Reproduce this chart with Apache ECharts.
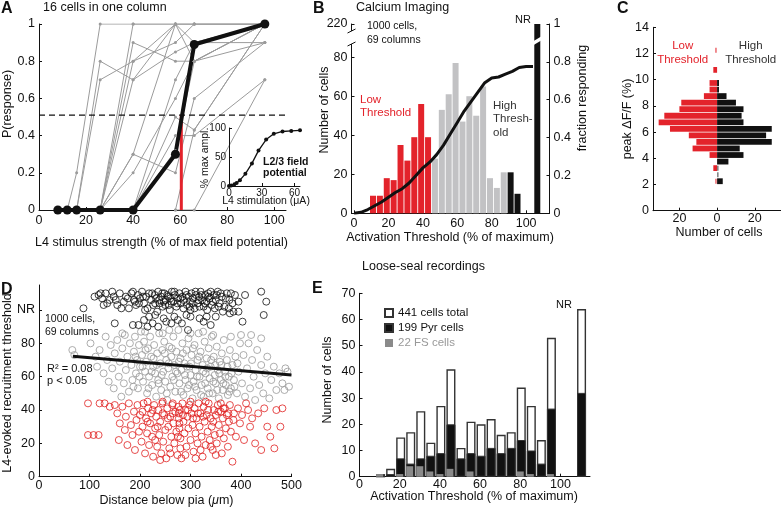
<!DOCTYPE html>
<html>
<head>
<meta charset="utf-8">
<script src="https://cdn.jsdelivr.net/npm/echarts@6/dist/echarts.min.js"></script>
<style>
  html, body { margin: 0; padding: 0; background: #fff; }
  #chart { width: 781px; height: 509px; }
</style>
</head>
<body>
<div id="chart"></div>
<script>
// ---- A: P(response) vs L4 stimulus, 16 cells + mean
const aStim = [8, 12, 16, 26, 40, 58, 66, 96];
const aMean = [0, 0, 0, 0, 0, 0.3, 0.89, 1];
const aCells = [
  [[12, 0], [16, 0.2], [26, 1], [40, 1], [58, 1], [66, 1], [96, 1]],
  [[16, 0], [26, 0.8], [40, 0.7], [58, 1], [66, 0.8], [96, 0.9]],
  [[16, 0], [26, 0.7], [40, 0.8], [58, 0.9], [66, 1], [96, 1]],
  [[26, 0], [40, 1], [58, 1], [66, 1], [96, 1]],
  [[26, 0], [40, 0.9], [58, 0.8], [66, 0.8], [96, 1]],
  [[26, 0], [40, 0.8], [58, 1], [66, 0.9], [96, 0.9]],
  [[26, 0], [40, 0.7], [58, 0.85], [66, 0.9], [96, 1]],
  [[26, 0], [40, 0.3], [58, 1], [66, 1], [96, 1]],
  [[26, 0], [40, 0.2], [58, 0.6], [66, 0.8], [96, 1]],
  [[26, 0], [40, 0], [58, 0.7], [66, 0.9], [96, 1]],
  [[40, 0], [58, 0.5], [66, 0.43], [96, 1]],
  [[40, 0], [58, 0.32], [66, 0.8], [96, 1]],
  [[40, 0], [58, 0.4], [66, 0.4], [96, 0.7]],
  [[58, 0], [66, 0.43], [96, 1]],
  [[58, 0], [66, 0], [96, 0.7]],
  [[26, 0], [40, 0.3], [58, 0.2], [66, 0.6], [96, 0.9]],
];
const aHalf = 0.51;
const aHalfStim = 60.5;
// inset: L2/3 field potential
const insetStim = [0, 2, 5, 7, 10, 15, 21, 27, 34, 41, 49, 57, 65];
const insetAmpl = [0, 1, 3, 5, 10, 21, 39, 61, 80, 90, 94, 95, 96];

// ---- B: calcium imaging histogram
const bBins = [11, 15, 19, 23, 27, 31, 35, 39, 43, 47, 51, 55, 59, 63, 67, 71, 75, 79, 83, 87, 91, 95];
const bCounts = [9, 9, 18, 17, 35, 27, 39, 56, 39, 28, 53, 61, 77, 47, 60, 50, 65, 18, 13, 21, 21, 10];
const bLowMax = 45, bHighMin = 88;
const bNR = 220, bNRx = 106.5;
const bCumX = [0, 4, 8, 12, 16, 20, 24, 28, 32, 36, 40, 44, 48, 52, 56, 60, 64, 68, 72, 76, 80, 84, 88, 92, 96, 100, 104];
const bCumFrac = [0, 0.005, 0.02, 0.04, 0.06, 0.085, 0.11, 0.13, 0.16, 0.2, 0.24, 0.27, 0.31, 0.36, 0.42, 0.48, 0.54, 0.59, 0.64, 0.69, 0.715, 0.72, 0.735, 0.75, 0.77, 0.776, 0.776];

// ---- C: peak dF/F histograms
const cBinCenters = [2.25, 2.75, 3.25, 3.75, 4.25, 4.75, 5.25, 5.75, 6.25, 6.75, 7.25, 7.75, 8.25, 8.75, 9.25, 9.75, 10.25, 10.75, 11.25, 11.75, 12.25];
const cLow = [0, 0, 2, 0, 4, 13, 11, 15, 25, 31, 28, 20, 19, 7, 4, 4, 0, 2, 0, 0, 0];
const cHigh = [3, 0, 0, 6, 14, 12, 29, 26, 29, 14, 13, 14, 10, 5, 1, 1, 0, 0, 0, 0, 0];
const cLowZero = [2.25, 12.25];
const cHighZero = [2.75, 3.25];

// ---- D: threshold vs depth
const dBlack = [[88,101],[110,108],[118,109],[125,107],[128,103],[132,110],[140,106],[145,111],[148,108],[155,103],[160,110],[163,101],[168,105],[172,108],[178,101],[183,110],[186,111],[188,106],[190,105],[192,103],[196,109],[200,107],[204,111],[208,104],[210,100],[212,108],[215,101],[218,110],[222,106],[226,103],[229,109],[232,107],[234,99],[236,111],[239,104],[242,108],[245,102],[247,105],[248,110],[251,106],[254,109],[257,103],[259,100],[260,107],[263,111],[266,105],[269,109],[272,102],[274,104],[275,107],[278,110],[281,104],[284,108],[286,101],[287,106],[290,111],[293,103],[296,108],[299,105],[300,100],[302,110],[305,107],[308,101],[311,109],[314,104],[317,108],[318,102],[320,111],[323,106],[326,102],[329,109],[332,105],[333,100],[335,110],[338,107],[342,103],[346,109],[348,101],[350,106],[354,111],[358,104],[362,108],[364,99],[367,102],[372,110],[376,101],[377,106],[378,98],[383,104],[385,99],[388,109],[395,105],[395,99],[408,109],[440,111],[450,105],
  [238,106],[244,110],[250,103],[256,108],[262,105],[268,111],[280,107],[292,109],[298,102],[304,104],[310,111],[316,106],[322,109],[328,104],[336,108],[340,111],[344,105],[352,109],[356,102],[360,110],[370,107],[380,110],[230,104],[224,110],[206,108],[198,104],[176,107],[152,106],[135,104],[122,110],
  [150,92],[186,91],[197,91],[208,94],[215,90],[218,96],[225,92],[230,97],[236,90],[247,95],[252,93],[262,92],[268,96],[275,94],[283,92],[292,97],[295,88],[300,96],[318,95],[326,93],[332,96],[340,91],[350,96],[403,93],[445,97]];
const dGray = [[66,76],[70,73],[102,80],[112,72],[115,66],[120,76],[128,62],[132,84],[135,70],[138,57],[142,79],[145,65],[148,53],[150,74],[155,82],[158,60],[160,69],[163,48],[165,77],[168,56],[170,85],[172,64],[175,72],[178,51],[180,80],
  [183,67],[185,58],[188,75],[190,84],[192,62],[194,70],[196,53],[198,79],[200,66],[202,87],[204,73],[206,57],[208,81],[210,63],[212,69],[214,50],[216,77],[218,60],[220,84],[222,72],[224,55],[226,66],[228,79],[230,62],[232,48],[234,74],[236,58],[238,86],[240,68],[242,52],[244,76],[246,63],[248,81],[250,57],[252,70],[254,46],[256,65],[258,78],[260,54],[262,72],[264,60],[266,84],[268,67],[270,51],[272,75],[274,62],[276,88],[278,56],[280,71],[282,64],[284,80],[286,49],[288,68],[290,58],[292,76],[294,53],[296,83],[298,66],[300,61],[302,73],[304,47],[306,57],[308,79],[310,64],[312,52],[314,70],[316,86],[318,60],[320,75],[322,55],[324,67],[326,48],[328,81],[330,62],[332,71],[334,53],[336,77],[338,59],[340,66],[342,84],[344,50],[346,72],[348,61],[350,56],[352,78],[354,64],[356,47],[358,69],[360,58],[362,74],[364,52],[366,82],[368,63],[370,55],[372,70],[374,49],[376,60],[378,76],[380,53],[383,67],[386,58],[389,72],[392,50],[395,63],[398,80],
  [187,54],[191,72],[199,60],[205,66],[211,76],[217,53],[223,63],[227,71],[233,67],[237,56],[243,61],[249,74],[253,50],[257,68],[263,77],[267,58],[271,63],[277,69],[281,51],[285,74],[289,61],[293,66],[297,55],[301,68],[305,77],[309,54],[313,60],[317,72],[321,49],[325,63],[329,56],[333,65],[337,50],[341,70],[345,57],[349,67],[353,52],[357,62],[361,67],[365,56],[369,60],[373,66],[377,51],[381,62],[387,54],[393,68],
  [402,56],[405,73],[408,48],[412,65],[415,80],[418,53],[422,70],[425,60],[428,46],[432,76],[436,55],[440,67],[444,50],[448,62],[452,72],[456,47],[460,58],[465,66],[470,52],[476,62],[482,56],[488,65],[492,63],[486,52],[495,54],[440,83],[420,85],
  [165,86],[210,87],[245,86],[258,88],[300,86],[325,87],[345,85],[380,84],[400,85]];
const dRed = [[97,44],[120,44],[97,25],[108,25],[118,25],[130,44],[140,42],[150,43],[155,38],[160,32],[158,22],[165,42],[170,28],[172,36],[175,19],[178,44],[182,31],[185,25],[188,39],[190,16],[193,34],[195,43],[198,27],[200,37],[203,21],[205,30],[207,44],[210,14],[212,35],[214,26],[216,41],[218,19],[220,32],[222,38],[224,24],[226,12],[228,43],[230,29],[232,36],[234,18],[236,40],[238,25],[240,33],[242,14],[244,44],[246,21],[248,37],[250,28],[252,11],[254,41],[256,30],[258,17],[260,36],[262,24],[264,43],[266,32],[268,20],[270,39],[272,27],[274,13],[276,42],[277,38],[277,35],[278,32],[278,29],[279,40],[280,23],[282,11],[284,44],[286,33],[288,26],[290,40],[292,18],[294,36],[296,29],[298,43],[300,22],[302,38],[304,31],[306,15],[308,41],[310,26],[312,35],[314,20],[316,44],[318,30],[320,38],[322,24],[324,12],[326,42],[328,33],[330,19],[332,37],[334,27],[336,44],[338,22],[340,35],[342,30],[344,16],[346,40],[348,25],[350,37],[352,20],[354,43],[356,31],[358,26],[360,39],[362,14],[364,35],[366,23],[368,41],[370,29],[372,37],[374,18],[376,33],[378,43],[380,27],[383,9],[386,38],[390,24],[394,41],[398,32],[402,37],[406,22],[410,44],[414,40],[418,30],[422,35],[428,20],[434,38],[440,16],[446,41],[452,30],[458,24],[466,17],[470,40],[478,30],[482,41],
  [205,39],[215,33],[225,40],[235,30],[245,38],[255,35],[265,38],[275,24],[285,37],[295,40],[305,35],[315,38],[325,36],[335,40],[345,33],[355,39],[365,41],[375,38],[385,34],[215,45],[245,45],[300,45],[330,45],[360,44],[265,44],[230,22],[260,14],[290,13],[320,16],[350,13],[240,10],[280,17],[310,11],[340,18]];
const dFit = [[67, 72.3], [500, 61]];

// ---- E: loose-seal recordings
const eBins = [10, 15, 20, 25, 30, 35, 40, 45, 50, 55, 60, 65, 70, 75, 80, 85, 90, 95, 110];
const eTotal = [1, 3, 15, 17, 25, 13, 27, 41, 11, 21, 20, 22, 16, 17, 34, 27, 14, 53, 64];
const ePyr = [0, 1, 7, 5, 7, 8, 9, 20, 7, 9, 8, 11, 9, 11, 14, 10, 5, 26, 32];
const eFS = [1, 0, 1, 4, 4, 2, 1, 3, 0, 2, 0, 0, 0, 0, 2, 1, 0, 1, 0];

const FONT = "'Liberation Sans', Arial, sans-serif";
const INK = '#111';
const RED = '#e3232b';
const zip = (xs, ys) => xs.map((x, i) => [x, ys[i]]);

function valAxis(grid, min, max, ticks, lab, extra) {
  return Object.assign({
    type: 'value', gridIndex: grid, min: min, max: max,
    axisLine: { show: true, onZero: false, lineStyle: { color: INK, width: 1 } },
    axisTick: { show: true, inside: true, length: 3, customValues: ticks, lineStyle: { color: INK } },
    axisLabel: Object.assign({ color: INK, fontSize: 12.5, fontFamily: FONT, margin: 4, customValues: ticks }, lab || {}),
    splitLine: { show: false },
  }, extra || {});
}

function t(x, y, s, st, rot) {
  return {
    type: 'text', x: x, y: y, rotation: rot || 0, z: 20,
    style: Object.assign({ text: s, fill: INK, fontSize: 12.5, fontFamily: FONT, align: 'left', verticalAlign: 'middle' }, st || {}),
  };
}
const UP = Math.PI / 2;

// B axis break: everything above 80 is shown at the top of the axis
const bTop = 97;
const brk = (v) => (v > 90 ? bTop : v);

// C categories (bin centres over 0..14)
const cCats = [];
for (let v = 0.25; v < 14; v += 0.5) cCats.push(v.toFixed(2));
const cIdx = (c) => cCats.indexOf(c.toFixed(2));
const cLowData = cCats.map(() => null);
const cHighData = cCats.map(() => null);
cBinCenters.forEach((c, i) => {
  if (cLow[i]) cLowData[cIdx(c)] = -cLow[i];
  if (cHigh[i]) cHighData[cIdx(c)] = cHigh[i];
});

const chart = echarts.init(document.getElementById('chart'));

const series = [];
// A
aCells.forEach((pts) => series.push({
  type: 'line', xAxisIndex: 0, yAxisIndex: 0, data: pts, symbol: 'circle', symbolSize: 3,
  lineStyle: { color: '#9b9b9b', width: 1 }, itemStyle: { color: '#9b9b9b' }, silent: true,
}));
series.push({
  type: 'line', xAxisIndex: 0, yAxisIndex: 0, data: [[0, aHalf], [105, aHalf]], symbol: 'none',
  lineStyle: { color: INK, width: 1.2, type: [6, 4] }, silent: true,
});
series.push({
  type: 'line', xAxisIndex: 0, yAxisIndex: 0, data: [[aHalfStim, 0], [aHalfStim, aHalf]], symbol: 'none',
  lineStyle: { color: RED, width: 3 }, silent: true,
});
series.push({
  type: 'line', xAxisIndex: 0, yAxisIndex: 0, data: zip(aStim, aMean), symbol: 'circle', symbolSize: 9,
  lineStyle: { color: INK, width: 4 }, itemStyle: { color: INK }, silent: true,
});
series.push({
  type: 'line', xAxisIndex: 1, yAxisIndex: 1, data: zip(insetStim, insetAmpl), symbol: 'circle', symbolSize: 4, z: 6,
  lineStyle: { color: INK, width: 1.3 }, itemStyle: { color: INK }, silent: true,
});
// B
series.push({
  type: 'bar', xAxisIndex: 2, yAxisIndex: 2, barWidth: 6, barGap: '-100%', silent: true,
  data: bBins.map((x, i) => ({
    value: [x, bCounts[i]],
    itemStyle: { color: x < bLowMax ? RED : (x > bHighMin ? INK : '#c2c2c4') },
  })),
});
series.push({
  type: 'bar', xAxisIndex: 2, yAxisIndex: 2, barWidth: 6, barGap: '-100%', silent: true,
  data: [[bNRx, brk(bNR)]], itemStyle: { color: INK },
});
series.push({
  type: 'line', xAxisIndex: 2, yAxisIndex: 3, data: zip(bCumX, bCumFrac), symbol: 'none',
  lineStyle: { color: INK, width: 3 }, silent: true,
});
// C
series.push({
  type: 'bar', xAxisIndex: 3, yAxisIndex: 5, data: cLowData, barWidth: 5.8, barGap: '-100%',
  itemStyle: { color: RED }, silent: true,
});
series.push({
  type: 'bar', xAxisIndex: 3, yAxisIndex: 5, data: cHighData, barWidth: 5.8, barGap: '-100%',
  itemStyle: { color: INK }, silent: true,
});
series.push({
  type: 'scatter', xAxisIndex: 3, yAxisIndex: 5, data: cLowZero.map((c) => [-0.6, cIdx(c)]),
  symbol: 'rect', symbolSize: [1.3, 5], itemStyle: { color: RED }, silent: true,
});
series.push({
  type: 'scatter', xAxisIndex: 3, yAxisIndex: 5, data: cHighZero.map((c) => [0.4, cIdx(c)]),
  symbol: 'rect', symbolSize: [1.3, 5], itemStyle: { color: '#444' }, silent: true,
});
// D
[[dGray, '#999'], [dRed, '#e02020'], [dBlack, INK]].forEach(([pts, col]) => series.push({
  type: 'scatter', xAxisIndex: 4, yAxisIndex: 6, data: pts, symbol: 'circle', symbolSize: 7,
  itemStyle: { color: 'rgba(0,0,0,0)', borderColor: col, borderWidth: 1 }, silent: true,
}));
series.push({
  type: 'line', xAxisIndex: 4, yAxisIndex: 6, data: dFit, symbol: 'none',
  lineStyle: { color: INK, width: 3 }, silent: true,
});
// E
series.push({
  name: '441 cells total', type: 'bar', xAxisIndex: 5, yAxisIndex: 7, barWidth: 9, barGap: '-100%',
  data: zip(eBins, eTotal), itemStyle: { color: '#fff', borderColor: '#333', borderWidth: 1.4 }, silent: true,
});
series.push({
  name: '199 Pyr cells', type: 'bar', xAxisIndex: 5, yAxisIndex: 7, barWidth: 9, barGap: '-100%',
  data: zip(eBins, ePyr), itemStyle: { color: INK, borderColor: '#333', borderWidth: 1 }, silent: true,
});
series.push({
  name: '22 FS cells', type: 'bar', xAxisIndex: 5, yAxisIndex: 7, barWidth: 7, barGap: '-100%',
  data: zip(eBins, eFS), itemStyle: { color: '#8a8a8a' }, silent: true,
});

const option = {
  animation: false,
  backgroundColor: '#fff',
  grid: [
    { left: 39, top: 24, width: 247, height: 186 },
    { left: 229, top: 128, width: 71, height: 58 },
    { left: 351.5, top: 24, width: 198, height: 189.3 },
    { left: 653, top: 27.3, width: 129, height: 183.4 },
    { left: 39, top: 285, width: 252.5, height: 191.7 },
    { left: 359.5, top: 293.3, width: 230.5, height: 183.4 },
  ],
  xAxis: [
    valAxis(0, 0, 105, [0, 20, 40, 60, 80, 100]),
    valAxis(1, 0, 65, [0, 30, 60], { fontSize: 10, margin: 2 }, { z: 6 }),
    valAxis(2, -1.5, 113.6, [0, 20, 40, 60, 80, 100]),
    valAxis(3, -34, 33.9, [-20, 0, 20], { formatter: (v) => Math.abs(v), margin: 1 }),
    valAxis(4, 0, 500, [0, 100, 200, 300, 400, 500], { margin: 2 }),
    valAxis(5, 0, 114.7, [0, 20, 40, 60, 80, 100], { margin: 1 }),
  ],
  yAxis: [
    valAxis(0, 0, 1, [0, 0.2, 0.4, 0.6, 0.8, 1]),
    valAxis(1, 0, 100, [0, 50, 100], { fontSize: 10, margin: 3 }, { z: 6 }),
    valAxis(2, 0, bTop, [0, 20, 40, 60, 80, bTop], { formatter: (v) => (v === bTop ? String(bNR) : v) }),
    valAxis(2, 0, 1, [0, 0.2, 0.4, 0.6, 0.8, 1], {}, { position: 'right' }),
    valAxis(3, 0, 14, [0, 2, 4, 6, 8, 10, 12, 14]),
    { type: 'category', gridIndex: 3, data: cCats, show: false, boundaryGap: true },
    valAxis(4, 0, 115, [0, 20, 40, 60, 80, 100], { formatter: (v) => (v === 100 ? 'NR' : v) }),
    valAxis(5, 0, 70, [0, 10, 20, 30, 40, 50, 60, 70]),
  ],
  legend: {
    orient: 'vertical', left: 379, top: 302, itemWidth: 8, itemHeight: 8, itemGap: 3, icon: 'rect',
    selectedMode: false,
    textStyle: { fontSize: 11.5, fontFamily: FONT, color: INK },
    data: [{ name: '441 cells total' }, { name: '199 Pyr cells' }, { name: '22 FS cells', textStyle: { color: '#999' } }],
  },
  series: series,
  graphic: [
    { type: 'rect', shape: { x: 229.5, y: 127, width: 72, height: 58.5 }, style: { fill: '#fff' }, z: 3 },
    // A
    t(1, 8.5, 'A', { fontSize: 16, fontWeight: 'bold' }),
    t(43, 7.5, '16 cells in one column'),
    t(7.5, 104, 'P(response)', { align: 'center' }, UP),
    t(161.5, 243, 'L4 stimulus strength (% of max field potential)', { align: 'center' }),
    t(205, 158, '% max ampl.', { align: 'center', fontSize: 10.5 }, UP),
    t(266, 201.5, 'L4 stimulation (\u03bcA)', { align: 'center', fontSize: 10.5 }),
    t(263, 157, 'L2/3 field\npotential', { fontSize: 10.5, fontWeight: 'bold', verticalAlign: 'top', lineHeight: 11 }),
    // B
    t(313, 8.5, 'B', { fontSize: 16, fontWeight: 'bold' }),
    t(356, 7.5, 'Calcium Imaging'),
    t(367, 19, '1000 cells,\n69 columns', { fontSize: 10.5, verticalAlign: 'top', lineHeight: 14 }),
    t(523, 20, 'NR', { align: 'center', fontSize: 11 }),
    t(360, 93.5, 'Low\nThreshold', { fill: RED, fontSize: 11.5, verticalAlign: 'top', lineHeight: 13 }),
    t(493, 99, 'High\nThresh-\nold', { fill: '#333', fontSize: 11.5, verticalAlign: 'top', lineHeight: 13.5 }),
    t(325, 110, 'Number of cells', { align: 'center' }, UP),
    t(583, 98, 'fraction responding', { align: 'center' }, UP),
    t(450, 238, 'Activation Threshold (% of maximum)', { align: 'center' }),
    { type: 'rect', shape: { x: 348, y: 31, width: 7, height: 13 }, style: { fill: '#fff' }, z: 19 },
    { type: 'line', shape: { x1: 347.5, y1: 33, x2: 355.5, y2: 29 }, style: { stroke: INK, lineWidth: 1 }, z: 20 },
    { type: 'line', shape: { x1: 347.5, y1: 46, x2: 355.5, y2: 42 }, style: { stroke: INK, lineWidth: 1 }, z: 20 },
    { type: 'polygon', shape: { points: [[532, 42], [542, 36], [542, 40], [532, 46]] }, style: { fill: '#fff' }, z: 19 },
    // C
    t(617, 9, 'C', { fontSize: 16, fontWeight: 'bold' }),
    t(682.7, 39, 'Low\nThreshold', { align: 'center', fill: RED, fontSize: 11.5, verticalAlign: 'top', lineHeight: 14 }),
    t(750.7, 39, 'High\nThreshold', { align: 'center', fill: '#333', fontSize: 11.5, verticalAlign: 'top', lineHeight: 14 }),
    t(627.5, 119, 'peak \u0394F/F (%)', { align: 'center' }, UP),
    t(719, 233, 'Number of cells', { align: 'center' }),
    // D
    t(1, 290, 'D', { fontSize: 16, fontWeight: 'bold' }),
    t(45, 312.5, '1000 cells,\n69 columns', { fontSize: 10.5, verticalAlign: 'top', lineHeight: 13 }),
    t(47, 363, 'R\u00b2 = 0.08\np < 0.05', { fontSize: 11, verticalAlign: 'top', lineHeight: 12 }),
    t(7.5, 383, 'L4-evoked recruitment threshold', { align: 'center' }, UP),
    {
      type: 'text', x: 166.5, y: 501, z: 20,
      style: {
        text: '{a|Distance below pia (}{b|\u03bc}{a|m)}', align: 'center', verticalAlign: 'middle',
        rich: {
          a: { fontSize: 12.5, fontFamily: FONT, fill: INK },
          b: { fontSize: 12.5, fontFamily: FONT, fill: INK, fontStyle: 'italic' },
        },
      },
    },
    // E
    t(312, 289, 'E', { fontSize: 16, fontWeight: 'bold' }),
    t(362, 267, 'Loose-seal recordings'),
    t(564, 305, 'NR', { align: 'center', fontSize: 11 }),
    t(328, 380, 'Number of cells', { align: 'center' }, UP),
    t(474, 497, 'Activation Threshold (% of maximum)', { align: 'center' }),
  ],
};

chart.setOption(option);
</script>
</body>
</html>
